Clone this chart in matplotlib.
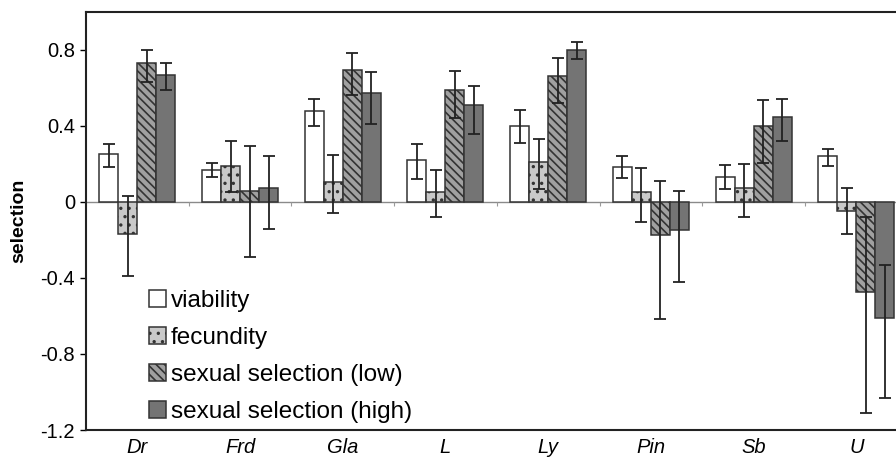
#!/usr/bin/env python3
"""Selection estimates per population, four selection components with CIs."""

import numpy as np
import matplotlib
matplotlib.use("Agg")
import matplotlib.pyplot as plt

plt.rcParams['font.family'] = ['Liberation Sans', 'DejaVu Sans']
plt.rcParams['hatch.linewidth'] = 1.2

populations = ["Dr", "Frd", "Gla", "L", "Ly", "Pin", "Sb", "U"]
components = ["viability", "fecundity", "sexual selection (low)", "sexual selection (high)"]

# bar values
viability = [0.25, 0.17, 0.48, 0.22, 0.40, 0.185, 0.13, 0.24]
fecundity = [-0.17, 0.19, 0.105, 0.05, 0.21, 0.05, 0.072, -0.045]
sex_low = [0.73, 0.058, 0.695, 0.59, 0.663, -0.175, 0.40, -0.475]
sex_high = [0.67, 0.075, 0.575, 0.51, 0.80, -0.147, 0.447, -0.61]

# error bar ends (lower, upper)
viability_lo = [0.185, 0.13, 0.40, 0.12, 0.31, 0.125, 0.068, 0.19]
viability_hi = [0.305, 0.205, 0.54, 0.305, 0.485, 0.24, 0.195, 0.28]
fecundity_lo = [-0.39, 0.05, -0.06, -0.08, 0.07, -0.105, -0.077, -0.17]
fecundity_hi = [0.03, 0.32, 0.245, 0.17, 0.33, 0.18, 0.20, 0.072]
sex_low_lo = [0.63, -0.29, 0.565, 0.44, 0.52, -0.615, 0.205, -1.11]
sex_low_hi = [0.80, 0.295, 0.785, 0.69, 0.758, 0.11, 0.537, -0.08]
sex_high_lo = [0.59, -0.14, 0.41, 0.36, 0.75, -0.42, 0.32, -1.03]
sex_high_hi = [0.73, 0.24, 0.685, 0.61, 0.84, 0.055, 0.54, -0.33]


def main():
    fig = plt.figure(figsize=(8.96, 4.61), dpi=100)
    ax = fig.add_axes([0.096, 0.0672, 0.917, 0.907])

    x = np.arange(len(populations))
    width = 0.185
    series = [
        (viability, viability_lo, viability_hi, "white", None),
        (fecundity, fecundity_lo, fecundity_hi, "#c9c9c9", ".."),
        (sex_low, sex_low_lo, sex_low_hi, "#a0a0a0", "\\\\\\\\"),
        (sex_high, sex_high_lo, sex_high_hi, "#747474", None),
    ]

    ax.axhline(0, color="#8a8a8a", lw=1.0, zorder=1)
    ax.vlines(np.arange(0.5, len(populations) - 0.5), -0.02, 0, color="#9a9a9a", lw=0.8)

    for i, (vals, lo, hi, face, hatch) in enumerate(series):
        pos = x + (i - 1.5) * width
        vals = np.array(vals)
        yerr = [vals - np.array(lo), np.array(hi) - vals]
        ax.bar(pos, vals, width, color=face, edgecolor="#333333", linewidth=1.1,
               hatch=hatch, label=components[i], zorder=2)
        ax.errorbar(pos, vals, yerr=yerr, fmt="none", ecolor="#222222",
                    elinewidth=1.3, capsize=4.5, capthick=1.3, zorder=3)

    ax.set_xlim(-0.5, len(populations) - 0.5)
    ax.set_ylim(-1.2, 1.0)
    ax.set_yticks([-1.2, -0.8, -0.4, 0, 0.4, 0.8])
    ax.set_yticklabels(["-1.2", "-0.8", "-0.4", "0", "0.4", "0.8"], fontsize=14.5)
    ax.set_xticks(x)
    ax.set_xticklabels(populations, fontsize=14.5, style="italic")
    ax.tick_params(axis="x", length=0, pad=6)
    ax.tick_params(axis="y", length=4, width=1.0, pad=4)
    ax.set_ylabel("selection", fontsize=14, fontweight="bold")
    ax.yaxis.set_label_coords(-0.072, 0.5)

    for side in ["top", "bottom", "left"]:
        ax.spines[side].set_linewidth(1.5)
        ax.spines[side].set_color("#222222")
    ax.spines["right"].set_visible(False)

    ax.legend(loc="upper left", bbox_to_anchor=(0.065, 0.357), frameon=False,
              fontsize=17.5, handlelength=0.7, handleheight=0.7,
              handletextpad=0.2, labelspacing=0.61, borderaxespad=0)

    fig.savefig("out.png", dpi=100)


if __name__ == '__main__':
    main()
